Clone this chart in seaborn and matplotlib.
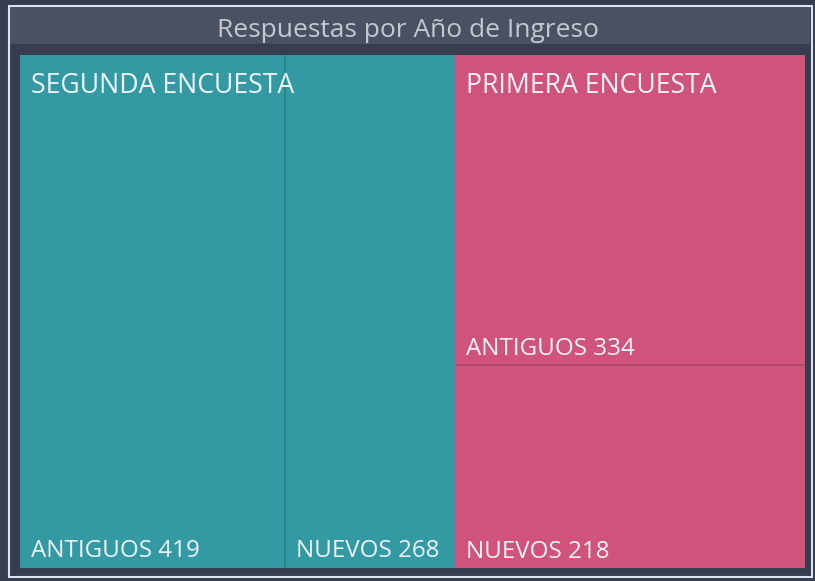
import matplotlib
matplotlib.use("Agg")
import matplotlib.pyplot as plt
import matplotlib.patches as mpatches
import matplotlib.transforms as mtransforms
import seaborn as sns

# ---- data ----
title = "Respuestas por Año de Ingreso"
groups = ["SEGUNDA ENCUESTA", "PRIMERA ENCUESTA"]
segunda_cats = ["ANTIGUOS", "NUEVOS"]
segunda_vals = [419, 268]
primera_cats = ["ANTIGUOS", "NUEVOS"]
primera_vals = [334, 218]
group_colors = ["#3399A3", "#CF537B"]
divider_colors = ["#2B7F88", "#A8486C"]

sns.set_theme(style="white")
plt.rcParams['font.family'] = ['Open Sans', 'DejaVu Sans']

BG = "#373D4F"
W, H = 815, 581
fig = plt.figure(figsize=(W / 100, H / 100), dpi=100)
fig.patch.set_facecolor(BG)

def fx(px): return px / W
def fy(py): return 1 - py / H

fig.patches.append(mpatches.Rectangle((fx(10), fy(44)), fx(800), 37 / H,
                                      transform=fig.transFigure, facecolor="#4A5162",
                                      edgecolor="none", zorder=0))
fig.patches.append(mpatches.Rectangle((fx(8.5), fy(577)), fx(803), 571 / H,
                                      transform=fig.transFigure, facecolor="none",
                                      edgecolor="#DCE3EE", linewidth=1.5, zorder=1))
fig.text(0.5, fy(37), title, ha="center", va="baseline", color="#C4C8CF", fontsize=19)

ax = fig.add_axes([fx(20), fy(568), fx(785), 513 / H])
ax.set_facecolor(BG)
total = sum(segunda_vals) + sum(primera_vals)
ax.set_xlim(0, total)
ax.set_ylim(0, 1)
ax.axis("off")

txt_color = "#EEF3FA"
fs = 17.4
gfs = 19.2
def off(dx, dy):
    return mtransforms.offset_copy(ax.transData, fig=fig, x=dx, y=dy, units="dots")

# segunda: columns side by side
x0 = 0
seg_total = sum(segunda_vals)
for i, (c, v) in enumerate(zip(segunda_cats, segunda_vals)):
    ax.bar(x0, 1, width=v, bottom=0, align="edge", color=group_colors[0], linewidth=0)
    if i > 0:
        ax.vlines(x0, 0, 1, color=divider_colors[0], linewidth=1.2)
    ax.text(x0, 0, f"{c} {v}", transform=off(11, 11), ha="left", va="baseline",
            color=txt_color, fontsize=fs)
    x0 += v
ax.text(0, 1, groups[0], transform=off(11, -38), ha="left", va="baseline",
        color=txt_color, fontsize=gfs)

# primera: stacked rows
gx = seg_total
pri_total = sum(primera_vals)
pw = pri_total
y_top = 1.0
for i, (c, v) in enumerate(zip(primera_cats, primera_vals)):
    h = v / pri_total
    ax.bar(gx, h, width=pw, bottom=y_top - h, align="edge", color=group_colors[1], linewidth=0)
    if i > 0:
        ax.hlines(y_top, gx, gx + pw, color=divider_colors[1], linewidth=1.2)
    ax.text(gx, y_top - h, f"{c} {v}", transform=off(11, 10), ha="left", va="baseline",
            color=txt_color, fontsize=fs)
    y_top -= h
ax.text(gx, 1, groups[1], transform=off(11, -38), ha="left", va="baseline",
        color=txt_color, fontsize=gfs)

fig.savefig("out.png", dpi=100, facecolor=BG)
